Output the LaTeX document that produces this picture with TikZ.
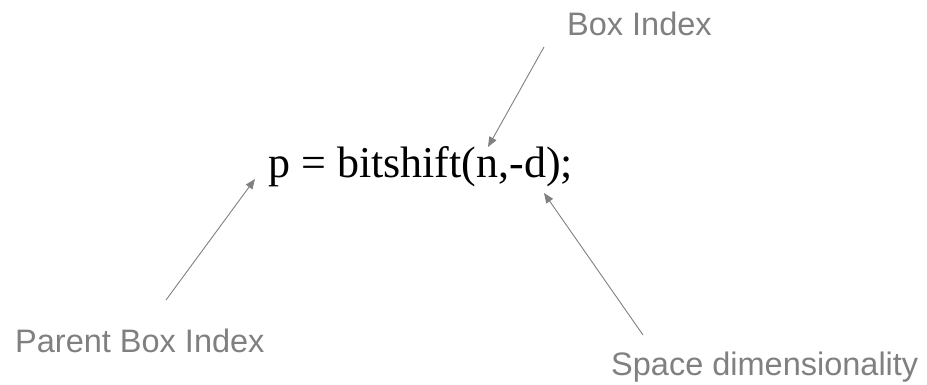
\documentclass[tikz,border=0pt]{standalone}
\usepackage{fontspec}
\setmainfont{Liberation Serif}
\newfontfamily\labelfont{Liberation Sans}
\usetikzlibrary{arrows.meta}
\definecolor{lblgray}{HTML}{808080}
\begin{document}
\begin{tikzpicture}[x=1pt,y=-1pt,
  lbl/.style={anchor=base west,inner sep=0pt,text=lblgray,font=\labelfont\fontsize{32.5}{36}\selectfont},
  ptr/.style={draw=lblgray,line width=0.9pt,-{Triangle[length=10pt,width=8pt]}}]
\useasboundingbox (0,0) rectangle (927,385);
\node[anchor=base west,inner sep=0pt,font=\fontsize{44}{50}\selectfont] (code) at (268,178) {p = bitshift(n,-d);};
\node[lbl] (box) at (567,36) {Box Index};
\node[lbl] (parent) at (15,352) {Parent Box Index};
\node[lbl] (space) at (611,375) {Space dimensionality};
\coordinate (boxS) at (544,47);
\coordinate (boxT) at (488,147);
\coordinate (parS) at (166,300);
\coordinate (parT) at (255,179);
\coordinate (spS) at (643,335);
\coordinate (spT) at (544,193);
\draw[ptr] (boxS) -- (boxT);
\draw[ptr] (parS) -- (parT);
\draw[ptr] (spS) -- (spT);
\end{tikzpicture}
\end{document}
